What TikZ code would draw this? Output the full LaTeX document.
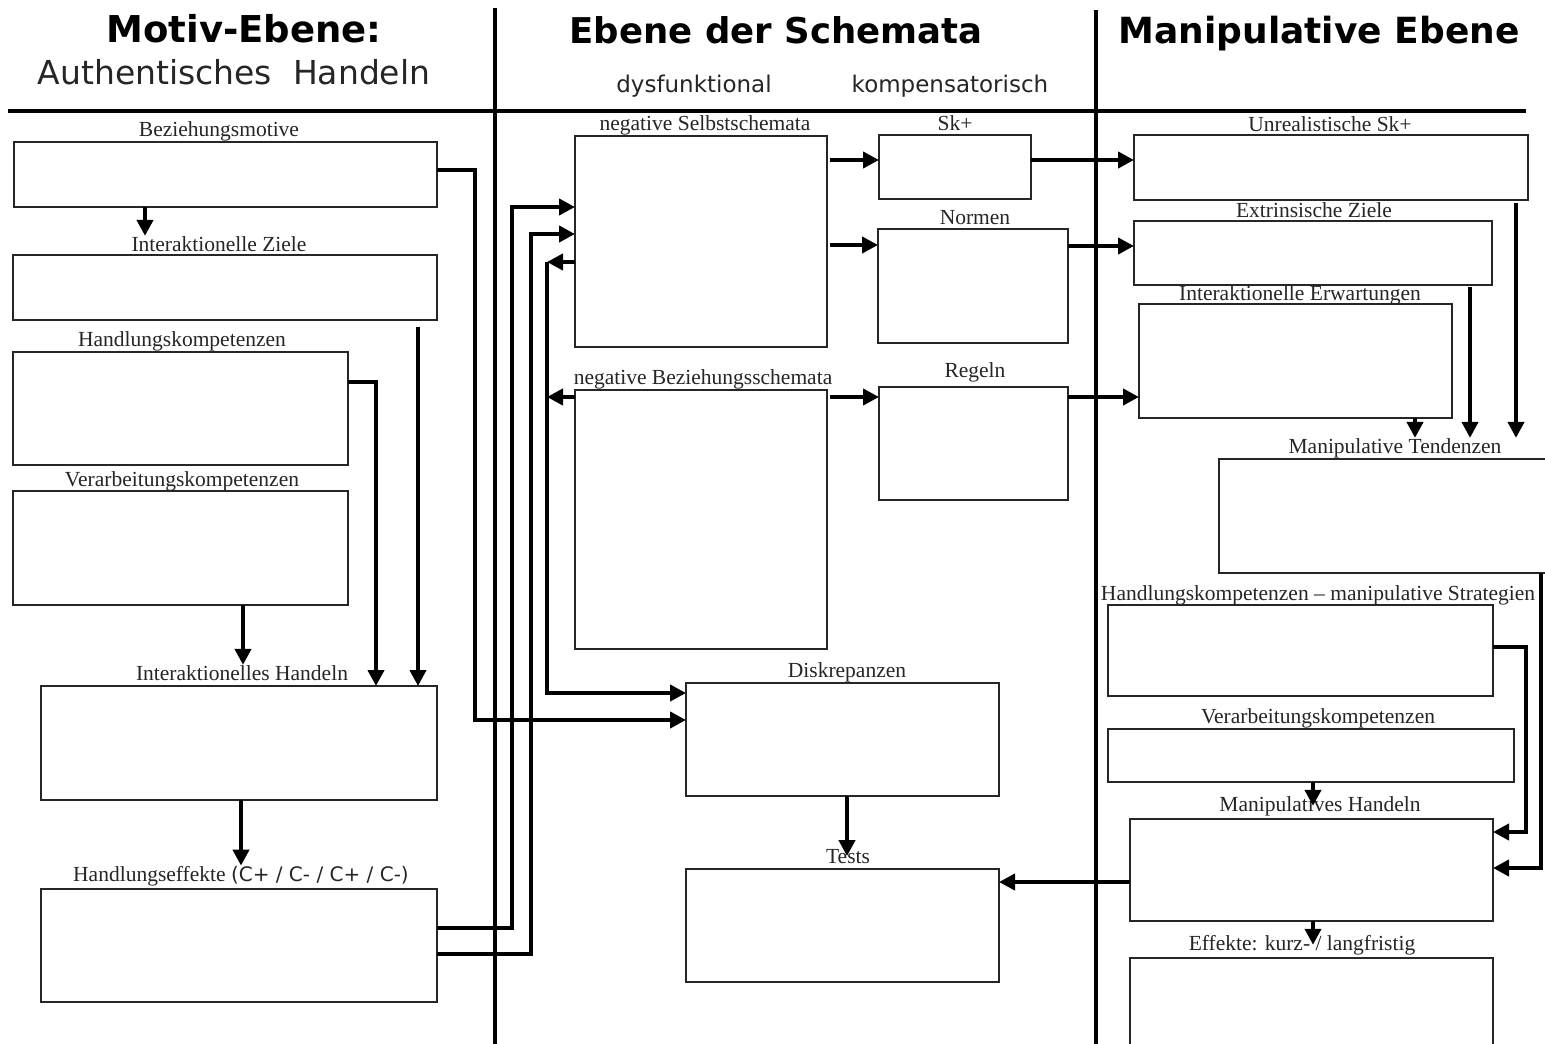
\documentclass[tikz,border=0pt]{standalone}
\usepackage{fontspec}
\setmainfont{Liberation Serif}
\newfontfamily\hdfont{DejaVu Sans}
\usetikzlibrary{arrows.meta}
\begin{document}
\begin{tikzpicture}[x=1pt,y=-1pt,
  box/.style={draw=black!85, line width=1.6pt, inner sep=0pt, outer sep=0pt},
  lab/.style={font=\fontsize{21.5}{24}\selectfont, text=black!85, inner sep=0pt, anchor=base},
  hdb/.style={font=\hdfont\bfseries\fontsize{37}{40}\selectfont, inner sep=0pt, anchor=base},
  hdr/.style={font=\hdfont\fontsize{33}{36}\selectfont, inner sep=0pt, anchor=base, text=black!85},
  hds/.style={font=\hdfont\fontsize{23}{26}\selectfont, inner sep=0pt, anchor=base, text=black!85},
  divider/.style={line width=3.6pt},
  conn/.style={line width=4.3pt, -{Triangle[length=16pt,width=16pt]}},
  plain/.style={line width=4.3pt}]
\useasboundingbox (0,0) rectangle (1545,1044);
\fill[white] (0,0) rectangle (1545,1044);

% headers
\node[hdb] (h1) at (244,42) {Motiv-Ebene:};
\node[hdr] (h1b) at (234,84) {Authentisches\ \ Handeln};
\node[hdb,font=\hdfont\bfseries\fontsize{35.5}{40}\selectfont] (h2) at (776,43) {Ebene der Schemata};
\node[hds] (h2a) at (694,92) {dysfunktional};
\node[hds] (h2b) at (950,92) {kompensatorisch};
\node[hdb,font=\hdfont\bfseries\fontsize{36}{40}\selectfont] (h3) at (1319,43) {Manipulative Ebene};

% dividers
\coordinate (d0) at (8,111);
\coordinate (d1) at (1526,111);
\coordinate (v1t) at (495,8);
\coordinate (v1b) at (495,1044);
\coordinate (v2t) at (1096,10);
\coordinate (v2b) at (1096,1044);
\draw[line width=4.5pt] (d0) -- (d1);
\draw[divider] (v1t) -- (v1b);
\draw[divider] (v2t) -- (v2b);

% left column boxes
\node[box, minimum width=423pt, minimum height=65pt] (bezmot) at (225.5,174.5) {};
\node[box, minimum width=424pt, minimum height=65pt] (iz) at (225,287.5) {};
\node[box, minimum width=335pt, minimum height=113pt] (hkomp) at (180.5,408.5) {};
\node[box, minimum width=335pt, minimum height=114pt] (vkomp) at (180.5,548) {};
\node[box, minimum width=396pt, minimum height=114pt] (ihand) at (239,743) {};
\node[box, minimum width=396pt, minimum height=113pt] (heff) at (239,945.5) {};

\node[lab] (lab-bm) at (219,136) {Beziehungsmotive};
\node[lab] (lab-iz) at (219,251) {Interaktionelle Ziele};
\node[lab] (lab-hk) at (182,346) {Handlungskompetenzen};
\node[lab] (lab-vk) at (182,486) {Verarbeitungskompetenzen};
\node[lab] (lab-ih) at (242,680) {Interaktionelles Handeln};
\node[lab] (lab-he) at (241,881) {Handlungseffekte {\hdfont\fontsize{20}{22}\selectfont(C+ / C- / C+ / C-)}};

% middle column boxes
\node[box, minimum width=252pt, minimum height=211pt] (nselbst) at (701,241.5) {};
\node[box, minimum width=252pt, minimum height=259pt] (nbez) at (701,519.5) {};
\node[box, minimum width=152pt, minimum height=64pt] (skplus) at (955,167) {};
\node[box, minimum width=190pt, minimum height=114pt] (normen) at (973,286) {};
\node[box, minimum width=189pt, minimum height=113pt] (regeln) at (973.5,443.5) {};
\node[box, minimum width=313pt, minimum height=113pt] (diskr) at (842.5,739.5) {};
\node[box, minimum width=313pt, minimum height=113pt] (tests) at (842.5,925.5) {};

\node[lab] (lab-ns) at (705,130) {negative Selbstschemata};
\node[lab] (lab-nb) at (703,384) {negative Beziehungsschemata};
\node[lab] (lab-sk) at (955,130) {Sk+};
\node[lab] (lab-no) at (975,224) {Normen};
\node[lab] (lab-re) at (975,377) {Regeln};
\node[lab] (lab-di) at (847,677) {Diskrepanzen};
\node[lab] (lab-te) at (848,863) {Tests};

% right column boxes
\node[box, minimum width=394pt, minimum height=65pt] (unreal) at (1331,167.5) {};
\node[box, minimum width=358pt, minimum height=64pt] (extr) at (1313,253) {};
\node[box, minimum width=313pt, minimum height=114pt] (ierw) at (1295.5,361) {};
\node[box, minimum width=330pt, minimum height=114pt] (mtend) at (1384,516) {};
\node[box, minimum width=385pt, minimum height=91pt] (hkms) at (1300.5,650.5) {};
\node[box, minimum width=406pt, minimum height=53pt] (vk2) at (1311,755.5) {};
\node[box, minimum width=363pt, minimum height=102pt] (mhand) at (1311.5,870) {};
\node[box, minimum width=363pt, minimum height=92pt] (eff) at (1311.5,1004) {};

\node[lab] (lab-un) at (1330,131) {Unrealistische Sk+};
\node[lab] (lab-ex) at (1314,217) {Extrinsische Ziele};
\node[lab] (lab-ie) at (1300,300) {Interaktionelle Erwartungen};
\node[lab] (lab-mt) at (1395,453) {Manipulative Tendenzen};
\node[lab] (lab-hm) at (1318,600) {Handlungskompetenzen -- manipulative Strategien};
\node[lab] (lab-v2) at (1318,723) {Verarbeitungskompetenzen};
\node[lab] (lab-mh) at (1320,811) {Manipulatives Handeln};
\node[lab] (lab-ef) at (1302,950) {Effekte: kurz- / langfristig};

% connectors, left column
\draw[conn] (bezmot.south -| 145,0) -- (lab-iz.north -| 145,0);
\draw[conn] (hkomp.east |- 0,382) -- (376,382) -- (ihand.north -| 376,0);
\draw[conn] ([yshift=-7pt]iz.south -| 418,0) -- (ihand.north -| 418,0);
\draw[conn] (vkomp.south -| 243,0) -- (lab-ih.north -| 243,0);
\draw[conn] (ihand.south -| 241,0) -- (lab-he.north -| 241,0);

% connectors crossing to the middle
\draw[conn] (bezmot.east |- 0,170) -- (475,170) -- (475,720) -- (diskr.west |- 0,720);
\draw[conn] (heff.east |- 0,928) -- (512,928) -- (512,207) -- (nselbst.west |- 0,207);
\draw[conn] (heff.east |- 0,954) -- (531,954) -- (531,234) -- (nselbst.west |- 0,234);
\coordinate (j1) at (547,262);
\draw[conn] (nselbst.west |- j1) -- (j1);
\draw[conn] (nbez.west |- 0,397) -- (j1 |- 0,397);
\draw[conn] (j1) -- (547,693) -- (diskr.west |- 0,693);

% middle column
\draw[conn] ([xshift=3pt]nselbst.east |- 0,160) -- (skplus.west |- 0,160);
\draw[conn] ([xshift=3pt]nselbst.east |- 0,245) -- (normen.west |- 0,245);
\draw[conn] ([xshift=3pt]nbez.east |- 0,397) -- (regeln.west |- 0,397);
\draw[conn] (diskr.south -| 847,0) -- (lab-te.center -| 847,0);

% middle to right
\draw[conn] (skplus.east |- 0,160) -- (unreal.west |- 0,160);
\draw[conn] (normen.east |- 0,246) -- (extr.west |- 0,246);
\draw[conn] (regeln.east |- 0,397) -- (ierw.west |- 0,397);

% right column
\draw[conn] ([yshift=-3pt]unreal.south -| 1516,0) -- (lab-mt.north -| 1516,0);
\draw[conn] ([yshift=-2pt]extr.south -| 1470,0) -- (lab-mt.north -| 1470,0);
\draw[conn] (ierw.south -| 1415,0) -- (lab-mt.north -| 1415,0);
\draw[conn] (mtend.south -| 1541,0) -- (1541,868) -- (mhand.east |- 0,868);
\draw[conn] (hkms.east |- 0,647) -- (1526,647) -- (1526,832) -- (mhand.east |- 0,832);
\draw[conn] (vk2.south -| 1313,0) -- (lab-mh.center -| 1313,0);
\draw[conn] (mhand.south -| 1313,0) -- (lab-ef.center -| 1313,0);
\draw[conn] (mhand.west |- 0,882) -- (tests.east |- 0,882);
\end{tikzpicture}
\end{document}
